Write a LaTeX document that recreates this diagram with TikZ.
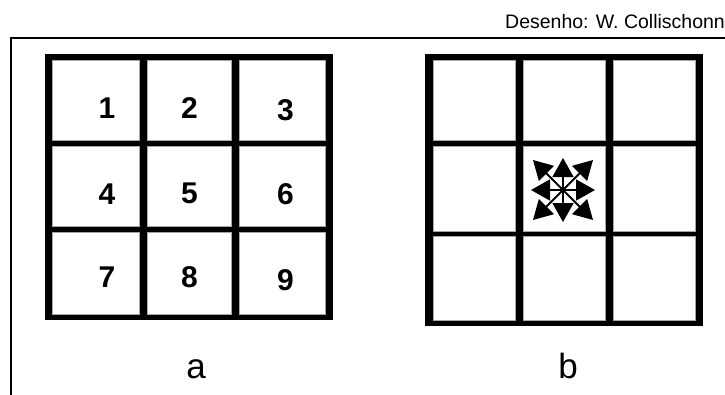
\documentclass[tikz,border=0pt]{standalone}
\usepackage{fontspec}
\setmainfont{Liberation Sans}
\usetikzlibrary{arrows.meta}
\begin{document}
\begin{tikzpicture}[x=1pt,y=-1pt,
  gridbg/.style={fill=black, draw=none, inner sep=0, outer sep=0},
  cell/.style={fill=white, draw=black!35, line width=0.8pt, inner sep=0, outer sep=0},
  num/.style={font=\fontsize{30}{32}\selectfont\bfseries, inner sep=0},
  lab/.style={font=\fontsize{35}{37}\selectfont, inner sep=0, anchor=base},
  frameline/.style={line width=2pt},
  flow/.style={line width=1.8pt, -{Triangle[length=19pt,width=21pt]}}]
\useasboundingbox (0,0) rectangle (725,394);
% credit
\node[anchor=base west, font=\fontsize{19.5}{20}\selectfont, inner sep=0] (credit) at (505,28) {Desenho: W. Collischonn};
% frame
\coordinate (fr) at (740,37.5);
\coordinate (ftl) at (11,37.5);
\coordinate (fb) at (11,400);
\draw[frameline] (fr) -- (ftl) -- (fb);
% grid a
\node[gridbg, minimum width=288pt, minimum height=266pt] (ga) at (189,187) {};
\node[cell, minimum width=87pt, minimum height=80pt] (a1) at (95.5,100) {};
\node[cell, minimum width=84pt, minimum height=80pt] (a2) at (189,100) {};
\node[cell, minimum width=86pt, minimum height=80pt] (a3) at (282,100) {};
\node[cell, minimum width=87pt, minimum height=80pt] (a4) at (95.5,186) {};
\node[cell, minimum width=84pt, minimum height=80pt] (a5) at (189,186) {};
\node[cell, minimum width=86pt, minimum height=80pt] (a6) at (282,186) {};
\node[cell, minimum width=87pt, minimum height=82pt] (a7) at (95.5,273) {};
\node[cell, minimum width=84pt, minimum height=82pt] (a8) at (189,273) {};
\node[cell, minimum width=86pt, minimum height=82pt] (a9) at (282,273) {};
\node[num] (n1) at (107,108.5) {1};
\node[num] (n2) at (189.5,108.5) {2};
\node[num] (n3) at (285.5,110) {3};
\node[num] (n4) at (107,194) {4};
\node[num] (n5) at (189.5,193.5) {5};
\node[num] (n6) at (285.5,194) {6};
\node[num] (n7) at (107,277.5) {7};
\node[num] (n8) at (189.5,277.5) {8};
\node[num] (n9) at (285.5,280) {9};
% grid b
\node[gridbg, minimum width=278pt, minimum height=272pt] (gb) at (564,190) {};
\node[cell, minimum width=82pt, minimum height=80pt] (b1) at (474,100) {};
\node[cell, minimum width=82pt, minimum height=80pt] (b2) at (564,100) {};
\node[cell, minimum width=82pt, minimum height=80pt] (b3) at (654,100) {};
\node[cell, minimum width=82pt, minimum height=85pt] (b4) at (474,188.5) {};
\node[cell, minimum width=82pt, minimum height=85pt] (b5) at (564,188.5) {};
\node[cell, minimum width=82pt, minimum height=85pt] (b6) at (654,188.5) {};
\node[cell, minimum width=82pt, minimum height=84pt] (b7) at (474,278) {};
\node[cell, minimum width=82pt, minimum height=84pt] (b8) at (564,278) {};
\node[cell, minimum width=82pt, minimum height=84pt] (b9) at (654,278) {};
% flow directions
\coordinate (c) at (563,190);
\coordinate (tu) at (563,158);
\coordinate (td) at (563,222);
\coordinate (tl) at (531,190);
\coordinate (tr) at (595,190);
\coordinate (tul) at (533,160);
\coordinate (tur) at (593,160);
\coordinate (tll) at (533,220);
\coordinate (tlr) at (593,220);
\foreach \t in {tu,td,tl,tr,tul,tur,tll,tlr} \draw[flow] (c) -- (\t);
% labels
\node[lab] (la) at (196,378) {a};
\node[lab] (lb) at (568,378) {b};
\end{tikzpicture}
\end{document}
